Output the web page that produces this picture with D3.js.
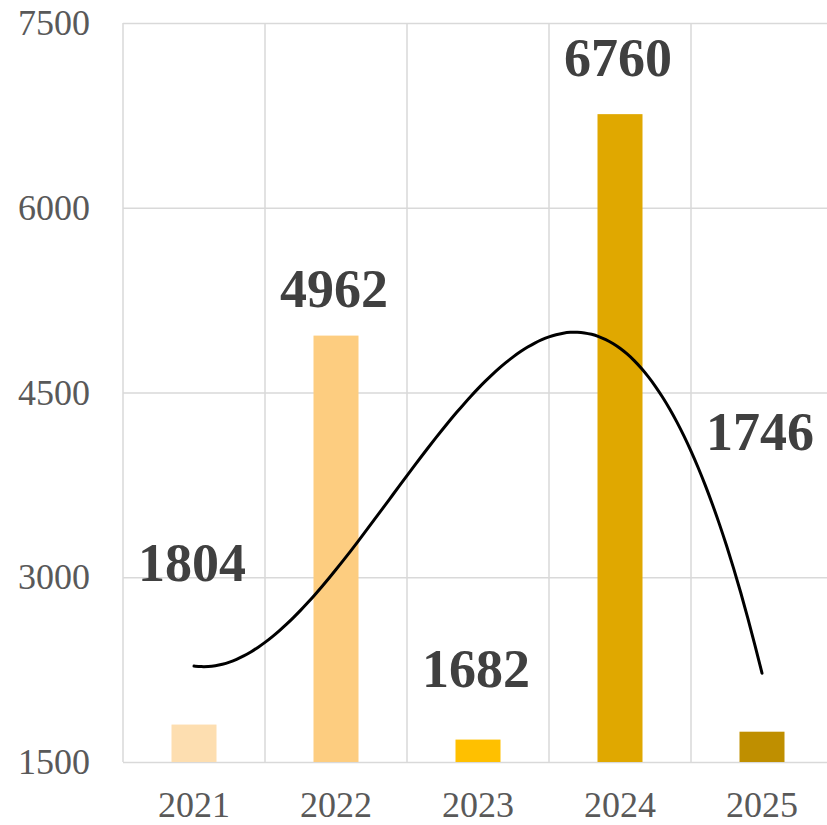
<!DOCTYPE html>
<html>
<head>
<meta charset="utf-8">
<script src="https://cdn.jsdelivr.net/npm/d3@7.9.0/dist/d3.min.js"></script>
<style>
  html, body { margin: 0; padding: 0; background: #fff; }
  svg { display: block; }
</style>
</head>
<body>
<div id="chart"></div>
<script>
// chart data
const years = ['2021', '2022', '2023', '2024', '2025'];
const values = [1804, 4962, 1682, 6760, 1746];
const barColors = ['#FDDEB0', '#FDCD80', '#FFC000', '#E0A800', '#BF8F00'];
const yTicks = [1500, 3000, 4500, 6000, 7500];
// where each value label sits, in axis units
const labelAt = [2966, 5197, 2105, 7070, 4035];

const width = 827;
const height = 825;
const margin = { top: 23, right: -6, bottom: 63, left: 123 };

const svg = d3.select('#chart')
  .append('svg')
  .attr('width', width)
  .attr('height', height);

const xScale = d3.scaleBand()
  .domain(years)
  .range([margin.left, width - margin.right])
  .paddingInner(0)
  .paddingOuter(0);

const yScale = d3.scaleLinear()
  .domain([1500, 7500])
  .range([height - margin.bottom, margin.top]);

// horizontal gridlines
svg.append('g')
  .attr('transform', `translate(${margin.left}, 0)`)
  .call(d3.axisLeft(yScale).tickValues(yTicks).tickFormat('').tickSize(-(width - margin.right - margin.left)))
  .call(g => g.select('.domain').remove())
  .call(g => g.selectAll('line').attr('stroke', '#d9d9d9').attr('stroke-width', 1.5));

// vertical gridlines on category edges
const edges = years.map(d => xScale(d));
svg.append('g')
  .selectAll('line')
  .data(edges)
  .join('line')
  .attr('x1', d => d).attr('x2', d => d)
  .attr('y1', yScale(7500)).attr('y2', yScale(1500))
  .attr('stroke', '#d9d9d9')
  .attr('stroke-width', 1.5);

// y tick labels
svg.append('g')
  .attr('transform', `translate(${margin.left - 33}, 0)`)
  .call(d3.axisLeft(yScale).tickValues(yTicks).tickFormat(d3.format('d')).tickSize(0).tickPadding(0))
  .call(g => g.select('.domain').remove())
  .call(g => g.selectAll('text')
    .attr('font-family', '"Liberation Serif", serif')
    .attr('font-size', 36)
    .attr('fill', '#595959'));

// x tick labels
svg.append('g')
  .attr('transform', `translate(0, ${yScale(1500)})`)
  .call(d3.axisBottom(xScale).tickSize(0).tickPadding(29))
  .call(g => g.select('.domain').remove())
  .call(g => g.selectAll('text')
    .attr('font-family', '"Liberation Serif", serif')
    .attr('font-size', 36)
    .attr('fill', '#595959'));

// bars
const barW = 45;
svg.append('g')
  .selectAll('rect')
  .data(values)
  .join('rect')
  .attr('x', (d, i) => xScale(years[i]) + xScale.bandwidth() / 2 - barW / 2)
  .attr('width', barW)
  .attr('y', d => yScale(d))
  .attr('height', d => yScale(1500) - yScale(d))
  .attr('fill', (d, i) => barColors[i]);

// cubic polynomial trend line (least squares over the bar values)
function polyFit(xs, ys, order) {
  const n = order + 1;
  const A = [];
  for (let r = 0; r < n; r++) {
    A.push([]);
    for (let c = 0; c < n; c++) A[r].push(d3.sum(xs, x => Math.pow(x, r + c)));
    A[r].push(d3.sum(xs, (x, i) => ys[i] * Math.pow(x, r)));
  }
  for (let k = 0; k < n; k++) {
    let p = k;
    for (let r = k + 1; r < n; r++) if (Math.abs(A[r][k]) > Math.abs(A[p][k])) p = r;
    [A[k], A[p]] = [A[p], A[k]];
    for (let r = k + 1; r < n; r++) {
      const f = A[r][k] / A[k][k];
      for (let c = k; c <= n; c++) A[r][c] -= f * A[k][c];
    }
  }
  const coef = new Array(n).fill(0);
  for (let r = n - 1; r >= 0; r--) {
    let s = A[r][n];
    for (let c = r + 1; c < n; c++) s -= A[r][c] * coef[c];
    coef[r] = s / A[r][r];
  }
  return x => coef.reduce((acc, a, i) => acc + a * Math.pow(x, i), 0);
}

const xs = years.map((d, i) => i + 1);
const trend = polyFit(xs, values, 3);
const xPos = d3.scaleLinear().domain([1, years.length])
  .range([xScale(years[0]) + xScale.bandwidth() / 2, xScale(years[years.length - 1]) + xScale.bandwidth() / 2]);

const trendPts = d3.range(1, years.length + 0.001, 0.05).map(x => [x, trend(x)]);
svg.append('path')
  .datum(trendPts)
  .attr('fill', 'none')
  .attr('stroke', '#000')
  .attr('stroke-width', 3)
  .attr('stroke-linecap', 'round')
  .attr('d', d3.line().x(d => xPos(d[0])).y(d => yScale(d[1])).curve(d3.curveBasis));

// value labels
svg.append('g')
  .selectAll('text')
  .data(values)
  .join('text')
  .attr('x', (d, i) => xScale(years[i]) + xScale.bandwidth() / 2 - 2)
  .attr('y', (d, i) => yScale(labelAt[i]))
  .attr('text-anchor', 'middle')
  .attr('font-family', '"Liberation Serif", serif')
  .attr('font-weight', 'bold')
  .attr('font-size', 54)
  .attr('fill', '#404040')
  .text(d => d);
</script>
</body>
</html>
